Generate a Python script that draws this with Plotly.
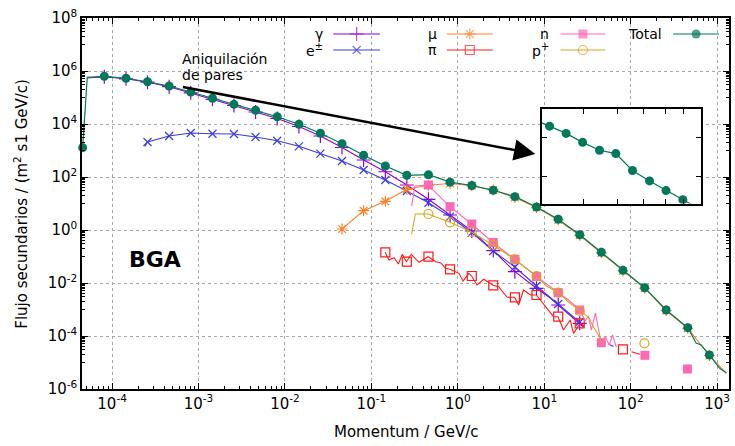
import plotly.graph_objects as go

# ---------------- data ----------------
# Total
total_p = [4.57e-5, 8.13e-5, 1.45e-4, 2.57e-4, 4.57e-4, 8.13e-4, 1.45e-3, 2.57e-3, 4.57e-3, 8.13e-3,
           1.45e-2, 2.57e-2, 4.57e-2, 8.13e-2, 0.145, 0.257, 0.457, 0.813, 1.45, 2.57,
           4.57, 8.13, 14.5, 25.7, 45.7, 81.3, 145, 257, 457, 813]
total_f = [1.28e3, 6.31e5, 5.31e5, 3.94e5, 2.72e5, 1.61e5, 9.33e4, 5.53e4, 3.29e4, 1.88e4,
           9.75e3, 4.46e3, 1.81e3, 659, 260, 116, 122, 63.7, 47.8, 31.5,
           18.1, 7.38, 2.54, 0.665, 0.144, 0.0301, 6.65e-3, 9.57e-4, 2.06e-4, 1.92e-5]
total_line_p = [4.57e-5, 5.16e-5, 8.13e-5, 1.45e-4, 2.57e-4, 4.57e-4, 8.13e-4, 1.45e-3, 2.57e-3, 4.57e-3,
                8.13e-3, 1.45e-2, 2.57e-2, 4.57e-2, 8.13e-2, 0.145, 0.257, 0.457, 0.813, 1.45,
                2.57, 4.57, 8.13, 14.5, 25.7, 45.7, 81.3, 145, 257, 457,
                571, 652, 813, 1071, 1276]
total_line_f = [1.28e3, 5.78e5, 6.31e5, 5.31e5, 3.94e5, 2.72e5, 1.61e5, 9.33e4, 5.53e4, 3.29e4,
                1.88e4, 9.75e3, 4.46e3, 1.81e3, 659, 260, 116, 122, 63.7, 47.8,
                31.5, 18.1, 7.38, 2.54, 0.665, 0.144, 0.0301, 6.65e-3, 9.57e-4, 2.06e-4,
                5.44e-5, 4.57e-5, 1.92e-5, 6.04e-6, 4.08e-6]

# gamma
gam_p = [8.13e-5, 1.45e-4, 2.57e-4, 4.57e-4, 8.13e-4, 1.45e-3, 2.57e-3, 4.57e-3, 8.13e-3, 1.45e-2,
         2.57e-2, 4.57e-2, 8.13e-2, 0.145, 0.257, 0.457, 0.813, 1.45, 2.57, 4.57,
         8.13, 14.5, 25.7]
gam_f = [6.04e5, 5.08e5, 3.78e5, 2.56e5, 1.50e5, 8.55e4, 4.99e4, 2.84e4, 1.61e4, 8.05e3,
         3.52e3, 1.30e3, 438, 158, 49.9, 14.4, 3.68, 0.917, 0.168, 0.0267,
         6.31e-3, 1.48e-3, 3.01e-4]
gam_line_p = [5.16e-5] + gam_p[:21] + [11.2] + gam_p[21:] + [28.4]
gam_line_f = [5.44e5] + gam_f[:21] + [3.04e-3] + gam_f[21:] + [2.19e-4]

# e+-
ele_p = [2.57e-4, 4.57e-4, 8.13e-4, 1.45e-3, 2.57e-3, 4.57e-3, 8.13e-3, 1.45e-2, 2.57e-2, 4.57e-2,
         8.13e-2, 0.145, 0.257, 0.457, 0.813, 1.45, 2.57, 4.57, 8.13, 14.5, 25.7]
ele_f = [2.09e3, 3.52e3, 4.57e3, 4.30e3, 4.20e3, 3.23e3, 2.34e3, 1.44e3, 757, 402,
         184, 77.1, 29.6, 10.7, 3.18, 0.791, 0.161, 0.0402, 7.71e-3, 1.61e-3, 3.37e-4]
ele_line_p = [2.39e-4] + ele_p + [28.4, None, 55.2, 63.0]
ele_line_f = [1.42e3] + ele_f + [2.3e-4, None, 4.99e-5, 4.02e-5]

# mu
mu_p = [4.57e-2, 8.13e-2, 0.145, 0.257, 0.457, 0.813, 1.45, 2.57, 4.57, 8.13,
        14.5, 25.7, 45.7, 81.3, 145, 257, 457, 813]
mu_f = [1.09, 5.35, 12.1, 34.4, 48.6, 56.9, 47.0, 32.3, 16.8, 7.06,
        2.38, 0.631, 0.136, 0.0284, 6.31e-3, 9.17e-4, 1.95e-4, 1.84e-5]
mu_line_p = mu_p + [1276]
mu_line_f = mu_f + [3.91e-6]

# pi
pi_p = [0.145, 0.257, 0.457, 0.813, 1.45, 2.57, 4.57, 8.13, 14.5, 25.7, 81.3]
pi_f = [0.144, 0.0637, 0.0983, 0.0329, 0.0184, 8.19e-3, 2.89e-3, 3.52e-3, 5.35e-4, 3.01e-4, 3.15e-5]
pi_line_p = [0.144, 0.160, 0.183, 0.205, 0.228, 0.254, 0.289, 0.355, 0.454, 0.553,
             0.631, 0.721, 0.809, 1.03, 1.15, 1.34, 1.44, 1.67, 1.995, 2.55,
             2.97, 3.71, 4.54, 5.05, 5.77, 6.90, 8.09, 9.38, 11.2, 12.8,
             14.4, 16.7, 19.95, 21.8, 26.0, 28.4, None, 102, 128]
pi_line_f = [0.144, 0.0738, 0.0902, 0.0521, 0.121, 0.0637, 0.121, 0.0604, 0.0983, 0.0637,
             0.0583, 0.0359, 0.0329, 0.0232, 0.0119, 0.0232, 0.0184, 8.41e-3, 0.0138, 8.19e-3,
             7.25e-3, 2.89e-3, 2.89e-3, 1.48e-3, 5.44e-3, 3.52e-3, 3.52e-3, 1.97e-3, 9.57e-4, 5.35e-4,
             5.35e-4, 1.68e-4, 4.02e-4, 1.26e-4, 3.01e-4, 2.38e-4, None, 2.56e-5, 2.04e-5]

# n
n_p = [0.457, 0.813, 1.45, 2.57, 4.57, 8.13, 14.5, 25.7, 45.7, 146, 453]
n_f = [49.9, 7.57, 1.68, 0.337, 0.0784, 0.0176, 4.31e-3, 9.57e-4, 5.58e-5, 1.87e-5, 5.69e-6]
n_line_p = [0.292, 0.319, 0.454, 0.809, 1.44, 2.55, 4.54, 8.09, 10.6, 14.6,
            19.05, 26.0, 29.7, 32.4, 35.1, 39.1, 45.4, 50.9, 56.6, 61.4, 68.2]
n_line_f = [8.05, 45.7, 49.9, 7.57, 1.68, 0.337, 0.0784, 0.0176, 9.17e-3, 4.31e-3,
            2.28e-3, 9.57e-4, 3.68e-4, 5.69e-4, 1.68e-4, 7.38e-4, 5.58e-5, 9.17e-5, 4.57e-5, 1.09e-4, 3.85e-5]

# p+
pr_p = [0.457, 0.813, 1.45, 2.57, 4.57, 8.13, 14.5, 25.7, 144]
pr_f = [4.02, 1.95, 0.841, 0.272, 0.0784, 0.0184, 4.31e-3, 8.77e-4, 5.31e-5]
pr_line_p = [0.292, 0.322, 0.454, 0.604, 0.809, 1.44, 2.55, 4.54, 8.09, 10.6,
             14.6, 19.05, 26.0, 32.4, 37.0, 44.2, 46.2]
pr_line_f = [0.706, 4.02, 4.02, 2.77, 1.95, 0.841, 0.272, 0.0784, 0.0184, 7.71e-3,
             4.31e-3, 1.92e-3, 8.77e-4, 5.21e-4, 2.24e-4, 8.18e-5, 5.31e-5]

# inset (zoom of the total curve)
inset_p = [0.195, 0.225, 0.259, 0.298, 0.344, 0.395, 0.455, 0.526, 0.605, 0.698, 0.804]
inset_f = [180, 143.5, 114.6, 86.7, 67.8, 61.1, 36.1, 26.1, 19.3, 14.5, 10.9]

x_tickvals = [1e-4, 1e-3, 1e-2, 1e-1, 1, 10, 100, 1000]
x_ticktext = ["10<sup>-4</sup>", "10<sup>-3</sup>", "10<sup>-2</sup>", "10<sup>-1</sup>",
              "10<sup>0</sup>", "10<sup>1</sup>", "10<sup>2</sup>", "10<sup>3</sup>"]
y_tickvals = [1e-6, 1e-4, 1e-2, 1, 1e2, 1e4, 1e6, 1e8]
y_ticktext = ["10<sup>-6</sup>", "10<sup>-4</sup>", "10<sup>-2</sup>", "10<sup>0</sup>",
              "10<sup>2</sup>", "10<sup>4</sup>", "10<sup>6</sup>", "10<sup>8</sup>"]

# ---------------- styles ----------------
C_GAM = "#9400d3"
C_ELE = "#3c3cd8"
C_MU = "#ff7f2a"
C_PI = "#ff1a1a"
C_N = "#ff69b4"
C_PR = "#daa520"
C_TOT = "#00785a"
FONT = "DejaVu Sans"

fig = go.Figure()


def curve(xl, yl, xm, ym, color, symbol, msize, filled=False, lw=1.1, clip=True):
    fig.add_trace(go.Scatter(x=xl, y=yl, mode="lines", line=dict(color=color, width=lw),
                             connectgaps=False, hoverinfo="skip", showlegend=False))
    if filled:
        mk = dict(symbol=symbol, size=msize, color=color, line=dict(width=0))
    else:
        mk = dict(symbol=symbol, size=msize, color=color, line=dict(color=color, width=1.2))
    fig.add_trace(go.Scatter(x=xm, y=ym, mode="markers", marker=mk, cliponaxis=clip,
                             hoverinfo="skip", showlegend=False))


curve(gam_line_p, gam_line_f, gam_p, gam_f, C_GAM, "cross-thin-open", 10)
curve(ele_line_p, ele_line_f, ele_p, ele_f, C_ELE, "x-thin-open", 8)
curve(mu_line_p, mu_line_f, mu_p, mu_f, C_MU, "asterisk-open", 9)
curve(pi_line_p, pi_line_f, pi_p, pi_f, C_PI, "square-open", 9)
curve(n_line_p, n_line_f, n_p, n_f, C_N, "square", 9, filled=True)
curve(pr_line_p, pr_line_f, pr_p, pr_f, C_PR, "circle-open", 9)
curve(total_line_p, total_line_f, total_p, total_f, C_TOT, "circle", 9, filled=True, lw=1.2, clip=False)

# inset
fig.add_trace(go.Scatter(x=inset_p, y=inset_f, xaxis="x2", yaxis="y2", mode="lines+markers",
                         line=dict(color=C_TOT, width=1.2),
                         marker=dict(symbol="circle", size=9, color=C_TOT),
                         hoverinfo="skip", showlegend=False))

# legend (gnuplot style: label, then sample)
leg = [("γ", C_GAM, "cross-thin-open", 10, False, 0, 0),
       ("e<sup>±</sup>", C_ELE, "x-thin-open", 8, False, 0, 1),
       ("μ", C_MU, "asterisk-open", 9, False, 1, 0),
       ("π", C_PI, "square-open", 9, False, 1, 1),
       ("n", C_N, "square", 9, True, 2, 0),
       ("p<sup>+</sup>", C_PR, "circle-open", 9, False, 2, 1),
       ("Total", C_TOT, "circle", 9, True, 3, 0)]
col_line = [(0.3883, 0.4607), (0.5639, 0.6348), (0.7396, 0.8089), (0.9137, 0.9846)]
col_text = [0.3744, 0.5501, 0.7227, 0.8983]
row_y = [0.9569, 0.9137]
annotations = []
for label, color, sym, size, filled, c, r in leg:
    x0, x1 = col_line[c]
    xm = (x0 + x1) / 2
    y = row_y[r]
    if filled:
        mk = dict(symbol=sym, size=[0, size, 0], color=color, line=dict(width=0))
    else:
        mk = dict(symbol=sym, size=[0, size, 0], color=color, line=dict(color=color, width=1.2))
    fig.add_trace(go.Scatter(x=[x0, xm, x1], y=[y, y, y], xaxis="x3", yaxis="y3",
                             mode="lines+markers", line=dict(color=color, width=1.1),
                             marker=mk, hoverinfo="skip", showlegend=False))
    annotations.append(dict(text=label, x=col_text[c], y=y, xref="paper", yref="paper",
                            xanchor="right", yanchor="middle", showarrow=False, borderpad=0,
                            font=dict(family=FONT, size=14, color="black")))

annotations += [
    dict(text="Momentum / GeV/c", x=0.5, y=-0.116, xref="paper", yref="paper",
         xanchor="center", yanchor="middle", showarrow=False,
         font=dict(family=FONT, size=15, color="black")),
    dict(text="Flujo secundarios / (m<sup>2</sup> s1 GeV/c)", x=-0.0955, y=0.5,
         xref="paper", yref="paper", textangle=-90, xanchor="center", yanchor="middle",
         showarrow=False, font=dict(family=FONT, size=15, color="black")),
    dict(text="<b>BGA</b>", x=0.1133, y=0.3483, xref="paper", yref="paper",
         xanchor="center", yanchor="middle", showarrow=False,
         font=dict(family=FONT, size=22, color="black")),
    dict(text="Aniquilación", x=0.1525, y=0.8895, xref="paper", yref="paper",
         xanchor="left", yanchor="middle", showarrow=False, borderpad=0,
         font=dict(family=FONT, size=14, color="black")),
    dict(text="de pares", x=0.1525, y=0.8464, xref="paper", yref="paper",
         xanchor="left", yanchor="middle", showarrow=False, borderpad=0,
         font=dict(family=FONT, size=14, color="black")),
    dict(text="", x=0.896, y=2.868, xref="x", yref="y", ax=-3.198, ay=5.408,
         axref="x", ayref="y", showarrow=True, arrowhead=2, arrowsize=1.7,
         arrowwidth=2.5, arrowcolor="black", standoff=0),
]

# minor ticks
x_minor = [n * 10.0 ** e for e in range(-5, 4) for n in range(2, 10)]
y_minor = [n * 10.0 ** e for e in range(-5, 8, 2) for n in range(1, 10)]

axis_common = dict(showline=True, linecolor="black", linewidth=1.5, mirror="ticks",
                   ticks="inside", ticklen=6, tickwidth=1, tickcolor="black",
                   showgrid=True, gridcolor="#a8a8a8", griddash="dot", gridwidth=1,
                   tickfont=dict(family=FONT, size=15, color="black"), zeroline=False)

fig.update_layout(
    width=735, height=446,
    margin=dict(l=82, r=4, t=18, b=57),
    paper_bgcolor="white", plot_bgcolor="white",
    showlegend=False,
    xaxis=dict(type="log", range=[-4.348, 3.137], tickmode="array", tickvals=x_tickvals,
               ticktext=x_ticktext,
               minor=dict(tickmode="array", tickvals=x_minor, ticks="inside", ticklen=3,
                          tickcolor="black", showgrid=False),
               **axis_common),
    yaxis=dict(type="log", range=[-6, 8], tickmode="array", tickvals=y_tickvals,
               ticktext=y_ticktext,
               minor=dict(tickmode="array", tickvals=y_minor, ticks="inside", ticklen=3,
                          tickcolor="black", showgrid=False),
               **axis_common),
    xaxis2=dict(type="log", range=[-0.676, -0.090], domain=[0.7108, 0.9564], anchor="y2",
                showline=True, linecolor="black", linewidth=2, mirror="ticks",
                ticks="inside", ticklen=5, tickcolor="black", tickmode="array",
                tickvals=[0.3, 0.4, 0.5, 0.6, 0.7], showticklabels=False, showgrid=False,
                zeroline=False),
    yaxis2=dict(type="log", range=[1.111, 2.385], domain=[0.5, 0.7539], anchor="x2",
                showline=True, linecolor="black", linewidth=2, mirror="ticks",
                ticks="inside", ticklen=5, tickcolor="black", tickmode="array",
                tickvals=[30, 100], showticklabels=False, showgrid=False, zeroline=False),
    xaxis3=dict(overlaying="x", range=[0, 1], visible=False, anchor="y3"),
    yaxis3=dict(overlaying="y", range=[0, 1], visible=False, anchor="x3"),
    annotations=annotations,
)

fig.write_html("out.html")
